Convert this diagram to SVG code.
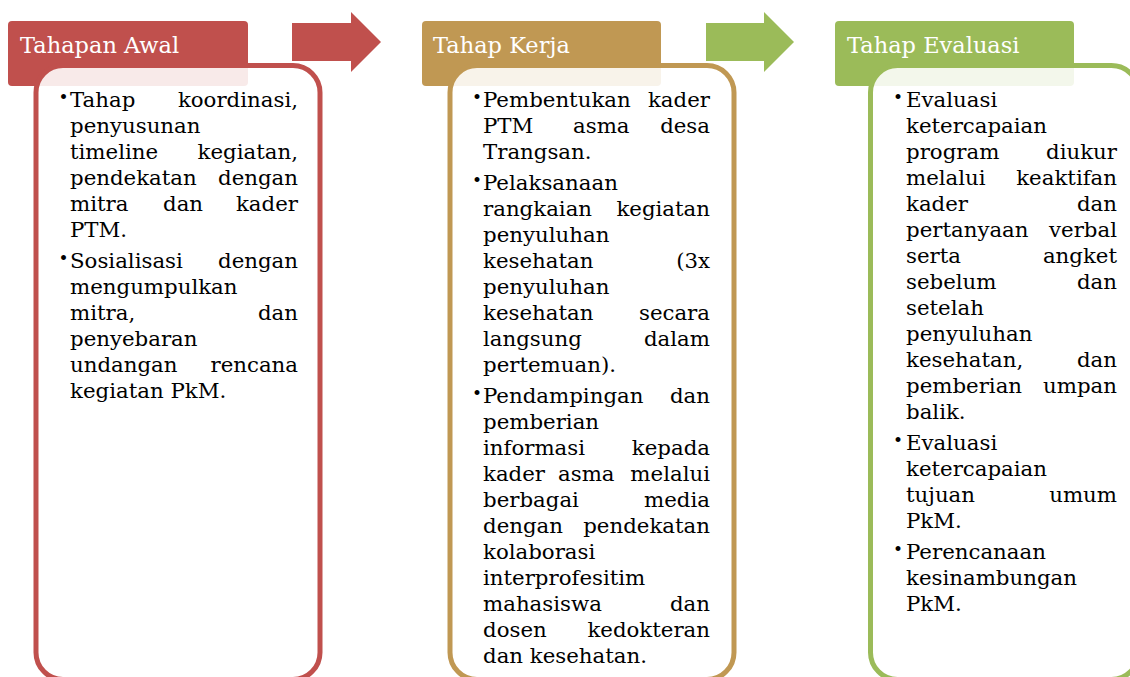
<svg xmlns="http://www.w3.org/2000/svg" width="1130" height="677" viewBox="0 0 1130 677">
<style>
.hd{font-family:"DejaVu Serif","Liberation Serif",serif;font-size:22.5px;fill:#ffffff}
.t{font-family:"DejaVu Serif","Liberation Serif",serif;font-size:21.3px;fill:#000000}
.b{font-family:"DejaVu Serif","Liberation Serif",serif;font-size:17px;fill:#000000;text-anchor:middle}
.e{text-anchor:end}
.box{fill:#ffffff;fill-opacity:0.88;stroke-width:5}
</style>
<rect width="1130" height="677" fill="#ffffff"/>
<g id="connectors">
<polygon points="292,23 351,23 351,12 381,42 351,72 351,61 292,61" fill="#C0504D"/>
<polygon points="706,23 764,23 764,12 794,42 764,72 764,61 706,61" fill="#9BBB59"/>
</g>
<g id="node-awal">
<rect x="8" y="21" width="240" height="65" rx="4" fill="#C0504D"/>
<text class="hd" x="20" y="53">Tahapan Awal</text>
<rect class="box" x="36" y="65.5" width="284" height="614" rx="27" stroke="#C0504D"/>
<text class="b" x="63.5" y="103">•</text>
<text class="b" x="63.5" y="264">•</text>
<text class="t" y="107"><tspan x="70">Tahap</tspan><tspan class="e" x="298">koordinasi,</tspan></text>
<text class="t" x="70" y="133">penyusunan</text>
<text class="t" y="159"><tspan x="70">timeline</tspan><tspan class="e" x="298">kegiatan,</tspan></text>
<text class="t" y="185"><tspan x="70">pendekatan</tspan><tspan class="e" x="298">dengan</tspan></text>
<text class="t" y="211"><tspan x="70">mitra</tspan><tspan x="163">dan</tspan><tspan class="e" x="298">kader</tspan></text>
<text class="t" x="70" y="237">PTM.</text>
<text class="t" y="268"><tspan x="70">Sosialisasi</tspan><tspan class="e" x="298">dengan</tspan></text>
<text class="t" x="70" y="294">mengumpulkan</text>
<text class="t" y="320"><tspan x="70">mitra,</tspan><tspan class="e" x="298">dan</tspan></text>
<text class="t" x="70" y="346">penyebaran</text>
<text class="t" y="372"><tspan x="70">undangan</tspan><tspan class="e" x="298">rencana</tspan></text>
<text class="t" x="70" y="398">kegiatan PkM.</text>
</g>
<g id="node-kerja">
<rect x="422" y="21" width="239" height="65" rx="4" fill="#C09853"/>
<text class="hd" x="433" y="53">Tahap Kerja</text>
<rect class="box" x="450" y="65.5" width="284" height="614" rx="27" stroke="#C09853"/>
<text class="b" x="477" y="103">•</text>
<text class="b" x="477" y="186">•</text>
<text class="b" x="477" y="399">•</text>
<text class="t" y="107"><tspan x="483">Pembentukan</tspan><tspan class="e" x="710">kader</tspan></text>
<text class="t" y="133"><tspan x="483">PTM</tspan><tspan x="573">asma</tspan><tspan class="e" x="710">desa</tspan></text>
<text class="t" x="483" y="159">Trangsan.</text>
<text class="t" x="483" y="190">Pelaksanaan</text>
<text class="t" y="216"><tspan x="483">rangkaian</tspan><tspan class="e" x="710">kegiatan</tspan></text>
<text class="t" x="483" y="242">penyuluhan</text>
<text class="t" y="268"><tspan x="483">kesehatan</tspan><tspan class="e" x="710">(3x</tspan></text>
<text class="t" x="483" y="294">penyuluhan</text>
<text class="t" y="320"><tspan x="483">kesehatan</tspan><tspan class="e" x="710">secara</tspan></text>
<text class="t" y="346"><tspan x="483">langsung</tspan><tspan class="e" x="710">dalam</tspan></text>
<text class="t" x="483" y="372">pertemuan).</text>
<text class="t" y="403"><tspan x="483">Pendampingan</tspan><tspan class="e" x="710">dan</tspan></text>
<text class="t" x="483" y="429">pemberian</text>
<text class="t" y="455"><tspan x="483">informasi</tspan><tspan class="e" x="710">kepada</tspan></text>
<text class="t" y="481"><tspan x="483">kader</tspan><tspan x="558">asma</tspan><tspan class="e" x="710">melalui</tspan></text>
<text class="t" y="507"><tspan x="483">berbagai</tspan><tspan class="e" x="710">media</tspan></text>
<text class="t" y="533"><tspan x="483">dengan</tspan><tspan class="e" x="710">pendekatan</tspan></text>
<text class="t" x="483" y="559">kolaborasi</text>
<text class="t" x="483" y="585">interprofesitim</text>
<text class="t" y="611"><tspan x="483">mahasiswa</tspan><tspan class="e" x="710">dan</tspan></text>
<text class="t" y="637"><tspan x="483">dosen</tspan><tspan class="e" x="710">kedokteran</tspan></text>
<text class="t" x="483" y="663">dan kesehatan.</text>
</g>
<g id="node-evaluasi">
<rect x="835" y="21" width="239" height="65" rx="4" fill="#9BBB59"/>
<text class="hd" x="847" y="53">Tahap Evaluasi</text>
<rect class="box" x="870.5" y="65.5" width="268" height="614" rx="27" stroke="#9BBB59"/>
<text class="b" x="898" y="103">•</text>
<text class="b" x="898" y="446">•</text>
<text class="b" x="898" y="555">•</text>
<text class="t" x="906" y="107">Evaluasi</text>
<text class="t" x="906" y="133">ketercapaian</text>
<text class="t" y="159"><tspan x="906">program</tspan><tspan class="e" x="1117">diukur</tspan></text>
<text class="t" y="185"><tspan x="906">melalui</tspan><tspan class="e" x="1117">keaktifan</tspan></text>
<text class="t" y="211"><tspan x="906">kader</tspan><tspan class="e" x="1117">dan</tspan></text>
<text class="t" y="237"><tspan x="906">pertanyaan</tspan><tspan class="e" x="1117">verbal</tspan></text>
<text class="t" y="263"><tspan x="906">serta</tspan><tspan class="e" x="1117">angket</tspan></text>
<text class="t" y="289"><tspan x="906">sebelum</tspan><tspan class="e" x="1117">dan</tspan></text>
<text class="t" x="906" y="315">setelah</text>
<text class="t" x="906" y="341">penyuluhan</text>
<text class="t" y="367"><tspan x="906">kesehatan,</tspan><tspan class="e" x="1117">dan</tspan></text>
<text class="t" y="393"><tspan x="906">pemberian</tspan><tspan class="e" x="1117">umpan</tspan></text>
<text class="t" x="906" y="419">balik.</text>
<text class="t" x="906" y="450">Evaluasi</text>
<text class="t" x="906" y="476">ketercapaian</text>
<text class="t" y="502"><tspan x="906">tujuan</tspan><tspan class="e" x="1117">umum</tspan></text>
<text class="t" x="906" y="528">PkM.</text>
<text class="t" x="906" y="559">Perencanaan</text>
<text class="t" x="906" y="585">kesinambungan</text>
<text class="t" x="906" y="611">PkM.</text>
</g>
</svg>
